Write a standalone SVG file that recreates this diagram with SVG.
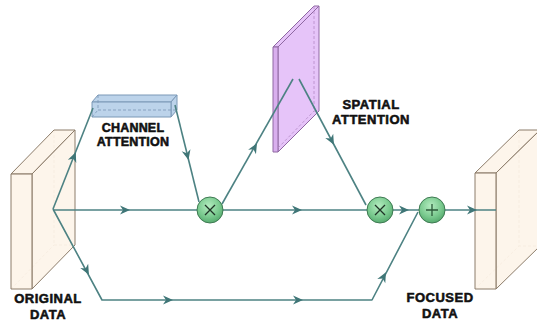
<svg xmlns="http://www.w3.org/2000/svg" xmlns:xlink="http://www.w3.org/1999/xlink" width="537" height="322" viewBox="0 0 537 322">
  <style>
    .flow { fill: none; stroke: #4d8283; stroke-width: 1.6; stroke-linejoin: round; }
    .head { fill: #3f7677; }
    .data { fill: #fdf3e8; fill-opacity: 0.85; stroke: #8c7c6a; stroke-width: 1; stroke-linejoin: round; }
    .data-hidden { fill: none; stroke: #cdbba8; stroke-width: 0.8; stroke-dasharray: 3 2; }
    .chan { fill: #bcd3ea; stroke: #7b98b6; stroke-width: 1; stroke-linejoin: round; }
    .chan-hidden { fill: none; stroke: #7b98b6; stroke-width: 0.8; stroke-dasharray: 3 2; }
    .spat { fill: #e6c4f9; stroke: #8f68a2; stroke-width: 1; stroke-linejoin: round; }
    .spat-edge { fill: #d9afee; }
    .spat-hidden { fill: none; stroke: #b58cc8; stroke-width: 0.8; stroke-dasharray: 3 2; }
    .op { fill: url(#opFill); stroke: #3e7a52; stroke-width: 1; }
    .sym { stroke: #1f3326; stroke-width: 1.3; fill: none; }
    .label { font-family: "Liberation Sans", Arial, sans-serif; font-weight: bold; font-size: 13px; letter-spacing: 0.5px; fill: #111; stroke: #111; stroke-width: 0.55; stroke-linejoin: round; text-anchor: middle; }
    .small { font-size: 12.5px; letter-spacing: 0.2px; }
  </style>
  <defs>
    <radialGradient id="opFill" cx="0.45" cy="0.35" r="0.7">
      <stop offset="0" stop-color="#b4ecc0"/>
      <stop offset="0.6" stop-color="#79c98e"/>
      <stop offset="1" stop-color="#4fa468"/>
    </radialGradient>
    <!-- barbed arrowhead, tip at origin pointing along +x -->
    <path id="ah" class="head" d="M2,0 L-8,-4.5 L-5,0 L-8,4.5 Z"/>
  </defs>

  <!-- input tensor -->
  <g id="original-data">
    <path class="data-hidden" d="M54,130 V245 H75 M11,289 L54,245"/>
    <path class="data" d="M11,174 H32 L75,130 H54 Z"/>
    <path class="data" d="M32,174 L75,130 V245 L32,289 Z"/>
    <rect class="data" x="11" y="174" width="21" height="115"/>
    <text class="label" x="48" y="303">ORIGINAL</text>
    <text class="label" x="48" y="319">DATA</text>
  </g>

  <!-- output tensor -->
  <g id="focused-data">
    <path class="data-hidden" d="M519,130 V246 H540 M475,289 L519,246"/>
    <path class="data" d="M475,173 H496 L540,130 H519 Z"/>
    <path class="data" d="M496,173 L540,130 V246 L496,289 Z"/>
    <rect class="data" x="475" y="173" width="21" height="116"/>
    <text class="label" x="440" y="302">FOCUSED</text>
    <text class="label" x="440" y="318">DATA</text>
  </g>

  <!-- channel attention block -->
  <g id="channel-attention">
    <path class="chan" d="M92,102 H171 L177,95 H98 Z"/>
    <path class="chan" d="M171,102 L177,95 V110 L171,117 Z"/>
    <rect class="chan" x="92" y="102" width="79" height="15"/>
    <path class="chan-hidden" d="M98,95 V110 H177 M92,117 L98,110"/>
    <text class="label small" x="133" y="131.5">CHANNEL</text>
    <text class="label small" x="133" y="146">ATTENTION</text>
  </g>

  <!-- spatial attention plane -->
  <g id="spatial-attention">
    <path class="spat" d="M273,47 H278 L319,6 H314 Z"/>
    <path class="spat" d="M278,47 L319,6 V111 L278,152 Z"/>
    <rect class="spat spat-edge" x="273" y="47" width="5" height="105"/>
    <path class="spat-hidden" d="M314,6 V111 H319 M278,148 L314,111"/>
    <text class="label" x="371" y="108.5">SPATIAL</text>
    <text class="label" x="371" y="124">ATTENTION</text>
  </g>

  <!-- connectors -->
  <g id="connectors">
    <path class="flow" d="M53,209 L93,108"/>
    <path class="flow" d="M53,210 H496"/>
    <path class="flow" d="M53,209 L102,300 H372 L418,212"/>
    <path class="flow" d="M175,105 L199,202"/>
    <path class="flow" d="M222,204 L293,79"/>
    <path class="flow" d="M299,79 L366,205"/>

    <use xlink:href="#ah" transform="translate(75,154) rotate(-68.4)"/>
    <use xlink:href="#ah" transform="translate(88,273) rotate(61.7)"/>
    <use xlink:href="#ah" transform="translate(188,158) rotate(76.1)"/>
    <use xlink:href="#ah" transform="translate(256,145) rotate(-60.4)"/>
    <use xlink:href="#ah" transform="translate(333,143) rotate(62)"/>
    <use xlink:href="#ah" transform="translate(128,210)"/>
    <use xlink:href="#ah" transform="translate(300,210)"/>
    <use xlink:href="#ah" transform="translate(407,210)"/>
    <use xlink:href="#ah" transform="translate(475,210)"/>
    <use xlink:href="#ah" transform="translate(171,300)"/>
    <use xlink:href="#ah" transform="translate(301,300)"/>
    <use xlink:href="#ah" transform="translate(385,274) rotate(-62.4)"/>
  </g>

  <!-- element-wise operators -->
  <g id="multiply-channel">
    <circle class="op" cx="210" cy="210" r="13"/>
    <path class="sym" d="M205,205 L215,215 M215,205 L205,215"/>
  </g>
  <g id="multiply-spatial">
    <circle class="op" cx="380" cy="210" r="13"/>
    <path class="sym" d="M375,205 L385,215 M385,205 L375,215"/>
  </g>
  <g id="add-residual">
    <circle class="op" cx="432" cy="210" r="13"/>
    <path class="sym" d="M432,204 V216 M426,210 H438" style="stroke:#2c5a3a"/>
  </g>
</svg>
